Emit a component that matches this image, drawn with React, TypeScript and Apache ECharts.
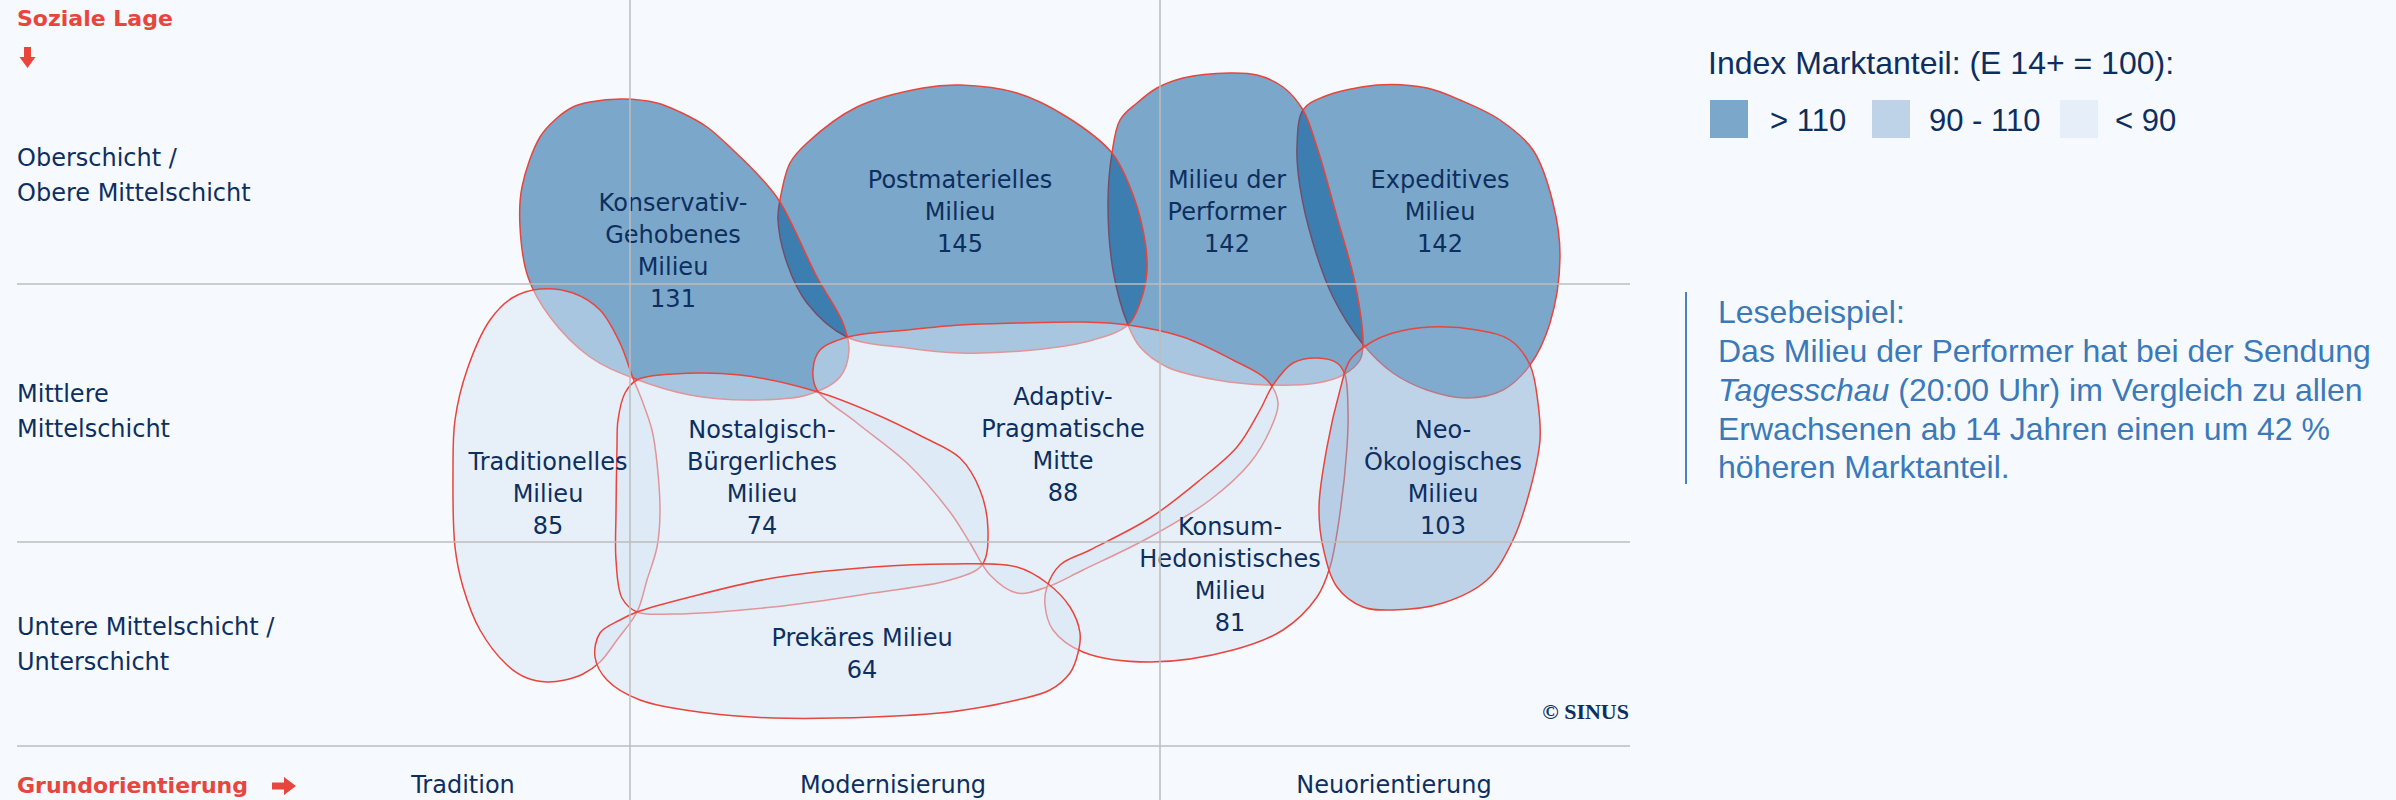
import React, { useEffect, useRef } from "react";
import * as echarts from "echarts";

// ---------------- data ----------------
// milieus in drawing order (back to front)
const milieuLabels: string[] = [
  "Expeditives\nMilieu",
  "Milieu der\nPerformer",
  "Postmaterielles\nMilieu",
  "Konservativ-\nGehobenes\nMilieu",
  "Traditionelles\nMilieu",
  "Adaptiv-\nPragmatische\nMitte",
  "Konsum-\nHedonistisches\nMilieu",
  "Neo-\nÖkologisches\nMilieu",
  "Nostalgisch-\nBürgerliches\nMilieu",
  "Prekäres Milieu",
];
const marketShareIndex: number[] = [142, 142, 145, 131, 85, 88, 81, 103, 74, 64];

// label anchor of each milieu (x = Grundorientierung scale, y = soziale Lage scale, top = 0)
const labelAnchors: number[][] = [
  [142.3, 21.2], [121.0, 21.2], [94.3, 21.2], [65.6, 25.1], [53.1, 49.4],
  [104.6, 44.5], [121.3, 57.5], [142.6, 47.8], [74.5, 47.8], [84.5, 65.4],
];

// outlines of the milieu shapes in the same axis units
const outlineExpeditive: number[][] = [
  [136.0, 8.5], [141.0, 8.8], [144.3, 10.0], [148.3, 12.0], [151.6, 15.0], [153.6, 20.3], [154.3, 25.7],
  [153.3, 32.3], [151.3, 36.5], [148.6, 39.0], [145.0, 39.8], [141.0, 39.0], [137.6, 37.3], [134.5, 34.3],
  [131.6, 29.7], [129.6, 24.3], [128.3, 18.7], [128.0, 14.7], [128.6, 11.0], [130.6, 9.7],
];
const outlinePerformer: number[][] = [
  [121.3, 7.3], [124.0, 7.5], [126.6, 8.7], [128.6, 11.0], [130.0, 14.7], [132.0, 21.7], [133.8, 28.3],
  [134.6, 34.3], [134.3, 36.0], [132.6, 37.5], [130.0, 38.3], [125.0, 38.5], [120.0, 38.0], [115.0, 36.7],
  [112.3, 34.7], [111.1, 32.5], [109.6, 27.0], [109.1, 20.3], [109.5, 15.3], [110.3, 12.0], [112.0, 10.3],
  [114.0, 8.8], [116.6, 7.8],
];
const outlinePostmaterial: number[][] = [
  [94.3, 8.5], [100.0, 9.3], [105.0, 11.7], [109.5, 15.3], [111.3, 18.7], [112.6, 23.0], [113.0, 27.0],
  [112.3, 30.3], [111.1, 32.5], [107.6, 34.0], [101.6, 35.0], [94.3, 35.3], [89.0, 34.8], [83.0, 33.7],
  [79.0, 30.3], [77.0, 26.3], [76.1, 22.0], [76.3, 20.0], [77.3, 16.3], [79.0, 14.3], [84.0, 10.7], [90.6, 8.8],
];
const outlineConservative: number[][] = [
  [60.6, 9.9], [64.0, 10.3], [66.3, 11.2], [69.0, 12.7], [71.6, 15.0], [74.3, 17.7], [76.3, 20.2],
  [80.0, 27.7], [82.6, 32.3], [83.2, 35.0], [82.3, 37.7], [79.0, 39.5], [73.3, 40.0], [67.3, 39.5],
  [61.6, 37.8], [57.3, 35.7], [53.3, 31.7], [51.1, 27.7], [50.3, 22.7], [50.5, 18.7], [52.3, 13.7],
  [54.0, 11.8], [55.6, 10.7], [57.3, 10.2],
];
const outlineTraditional: number[][] = [
  [52.3, 28.9], [55.6, 29.3], [58.3, 31.0], [60.3, 34.3], [61.6, 37.8], [62.6, 40.3], [63.5, 43.0],
  [64.0, 46.3], [64.3, 51.3], [64.0, 54.7], [63.0, 58.0], [62.0, 61.2], [60.0, 64.0], [58.3, 66.2],
  [56.6, 67.4], [54.8, 68.0], [53.0, 68.2], [51.0, 67.8], [49.0, 66.5], [46.3, 63.0], [44.6, 58.7],
  [43.8, 54.7], [43.6, 47.0], [43.8, 42.0], [45.0, 37.0], [47.3, 32.0], [49.5, 29.8],
];
const outlineAdaptive: number[][] = [
  [83.1, 33.7], [89.0, 33.0], [94.3, 32.5], [100.0, 32.3], [106.6, 32.2], [111.1, 32.5], [116.6, 33.7],
  [121.6, 36.0], [125.0, 38.0], [126.1, 40.3], [125.3, 43.0], [123.3, 46.3], [119.3, 50.0], [113.3, 53.7],
  [106.6, 57.0], [103.0, 58.7], [100.0, 59.3], [97.3, 57.5], [95.3, 54.3], [93.3, 51.2], [89.0, 46.3],
  [84.0, 42.3], [80.0, 39.0], [79.6, 37.0], [80.3, 35.0],
];
const outlineHedonist: number[][] = [
  [103.0, 58.7], [104.3, 56.5], [107.3, 55.0], [113.3, 51.8], [118.3, 48.0], [122.0, 44.7], [124.3, 41.0],
  [125.6, 38.5], [127.6, 36.3], [130.0, 35.8], [132.0, 36.3], [132.8, 37.5], [133.1, 41.0], [133.0, 44.7],
  [132.3, 51.3], [131.3, 56.7], [130.0, 59.7], [126.6, 63.0], [121.6, 65.0], [113.3, 66.2], [106.6, 65.2],
  [103.6, 63.0], [102.8, 60.5],
];
const outlineNeoEco: number[][] = [
  [141.3, 32.7], [146.0, 33.0], [149.3, 34.0], [151.3, 36.5], [152.1, 40.3], [152.3, 44.0], [151.3, 49.0],
  [149.6, 54.0], [147.0, 58.0], [142.6, 60.3], [137.6, 61.0], [134.6, 60.7], [132.0, 58.7], [130.6, 54.7],
  [130.2, 50.7], [131.0, 44.7], [132.3, 39.0], [133.3, 36.0], [135.3, 34.3], [137.6, 33.3],
];
const outlineNostalgic: number[][] = [
  [62.0, 38.0], [65.6, 37.4], [72.3, 37.5], [80.1, 39.2], [85.6, 41.3], [90.6, 43.7], [94.3, 45.8],
  [96.3, 49.0], [97.1, 53.0], [96.5, 56.5], [93.3, 58.0], [85.6, 59.3], [75.6, 60.7], [65.6, 61.4],
  [62.0, 61.2], [60.5, 59.8], [59.9, 56.0], [59.9, 51.3], [60.0, 44.7], [60.1, 42.0], [60.8, 39.3],
];
const outlinePrecarious: number[][] = [
  [62.0, 61.2], [67.3, 59.7], [75.6, 57.8], [85.6, 56.7], [93.3, 56.4], [100.0, 56.7], [103.0, 58.3],
  [105.3, 60.7], [106.3, 63.3], [106.1, 65.3], [105.3, 67.3], [103.3, 69.0], [100.0, 70.0], [96.6, 70.7],
  [93.3, 71.2], [85.6, 71.7], [75.6, 71.8], [69.0, 71.3], [62.3, 70.0], [59.0, 68.0], [57.8, 65.7],
  [58.3, 63.3], [60.3, 62.0],
];
const milieuOutlines: number[][][] = [
  outlineExpeditive, outlinePerformer, outlinePostmaterial, outlineConservative, outlineTraditional,
  outlineAdaptive, outlineHedonist, outlineNeoEco, outlineNostalgic, outlinePrecarious,
];

// boundaries of the map
const orientationBoundaries: number[] = [61.3, 114.3];
const socialBoundaries: number[] = [28.4, 54.2, 74.6];

// axis texts
const socialLevels: string[][] = [
  ["Oberschicht /", "Obere Mittelschicht"],
  ["Mittlere", "Mittelschicht"],
  ["Untere Mittelschicht /", "Unterschicht"],
];
const orientationLevels: string[] = ["Tradition", "Modernisierung", "Neuorientierung"];
const legendClasses: string[] = ["> 110", "90 - 110", "< 90"];

// ---------------- style ----------------
const NAVY = "#0d2f5f";
const RED = "#e8453c";
const BG = "#f6f9fd";
const TIER_SOLID = ["#7ba7ca", "#bfd3e8", "#e6eff9"];
const TIER_FILL = ["rgba(0,85,151,0.5)", "rgba(136,173,211,0.5)", "rgba(215,229,245,0.5)"];
const tierOf = (v: number) => (v > 110 ? 0 : v >= 90 ? 1 : 2);
const LABEL_FONT = "'DejaVu Sans', Verdana, sans-serif";
const SANS = "'Liberation Sans', Arial, sans-serif";

// closed centripetal Catmull-Rom spline through pixel points -> SVG path
function closedSplinePath(pts: number[][]): string {
  const n = pts.length;
  const f = (v: number) => v.toFixed(2);
  let d = `M${f(pts[0][0])} ${f(pts[0][1])}`;
  const dist = (a: number[], b: number[]) => Math.max(1e-6, Math.sqrt(Math.hypot(b[0] - a[0], b[1] - a[1])));
  for (let i = 0; i < n; i++) {
    const p0 = pts[(i - 1 + n) % n];
    const p1 = pts[i];
    const p2 = pts[(i + 1) % n];
    const p3 = pts[(i + 2) % n];
    const d1 = dist(p0, p1);
    const d2 = dist(p1, p2);
    const d3 = dist(p2, p3);
    const c1 = [0, 1].map(
      (k) => (d1 * d1 * p2[k] - d2 * d2 * p0[k] + (2 * d1 * d1 + 3 * d1 * d2 + d2 * d2) * p1[k]) / (3 * d1 * (d1 + d2))
    );
    const c2 = [0, 1].map(
      (k) => (d3 * d3 * p1[k] - d2 * d2 * p3[k] + (2 * d3 * d3 + 3 * d3 * d2 + d2 * d2) * p2[k]) / (3 * d3 * (d3 + d2))
    );
    d += ` C${f(c1[0])} ${f(c1[1])} ${f(c2[0])} ${f(c2[1])} ${f(p2[0])} ${f(p2[1])}`;
  }
  return d + " Z";
}

export default function App() {
  const ref = useRef<HTMLDivElement>(null);

  useEffect(() => {
    document.body.style.margin = "0";
    if (!ref.current) return;
    const chart = echarts.init(ref.current, null, { renderer: "svg" });

    const socialY = [158, 394, 627];
    const orientationX = [463, 893, 1394];
    const legendSwatchX = [1710, 1872, 2060];
    const legendTextX = [1770, 1929, 2115];
    const midText = { textVerticalAlign: "middle", verticalAlign: "middle" };

    const graphic: any[] = [
      { type: "text", x: 17, y: 18, style: { text: "Soziale Lage", fontSize: 22, fontWeight: "bold", fontFamily: LABEL_FONT, fill: RED, ...midText } },
      // down arrow
      { type: "polygon", shape: { points: [[24, 47], [31, 47], [31, 57], [35.5, 57], [27.5, 68], [19.5, 57], [24, 57]] }, style: { fill: RED } },
      { type: "text", x: 17, y: 785, style: { text: "Grundorientierung", fontSize: 22, fontWeight: "bold", fontFamily: LABEL_FONT, fill: RED, ...midText } },
      // right arrow
      { type: "polygon", shape: { points: [[272, 782.5], [284, 782.5], [284, 777], [296, 786], [284, 795], [284, 789.5], [272, 789.5]] }, style: { fill: RED } },
      { type: "text", x: 1629, y: 711, style: { text: "© SINUS", fontSize: 22, fontWeight: "bold", fontFamily: "'Liberation Serif', 'Times New Roman', serif", fill: NAVY, textAlign: "right", align: "right", ...midText } },
      // legend
      { type: "text", x: 1708, y: 63, style: { text: "Index Marktanteil: (E 14+ = 100):", fontSize: 32, fontFamily: SANS, fill: NAVY, ...midText } },
      // Lesebeispiel
      { type: "rect", shape: { x: 1685, y: 292, width: 2, height: 192 }, style: { fill: "#4a80bf" } },
      { type: "text", x: 1718, y: 312, style: { text: "Lesebeispiel:", fontSize: 32, fontFamily: SANS, fill: "#3b79b9", ...midText } },
      { type: "text", x: 1718, y: 351, style: { text: "Das Milieu der Performer hat bei der Sendung", fontSize: 32, fontFamily: SANS, fill: "#3b79b9", ...midText } },
      {
        type: "text", x: 1718, y: 390, style: {
          text: "{i|Tagesschau}{n| (20:00 Uhr) im Vergleich zu allen}", fontSize: 32, fontFamily: SANS, fill: "#3b79b9", ...midText,
          rich: {
            i: { fontStyle: "italic", fontSize: 32, fontFamily: SANS, fill: "#3b79b9", color: "#3b79b9" },
            n: { fontSize: 32, fontFamily: SANS, fill: "#3b79b9", color: "#3b79b9" },
          },
        },
      },
      { type: "text", x: 1718, y: 429, style: { text: "Erwachsenen ab 14 Jahren einen um 42 %", fontSize: 32, fontFamily: SANS, fill: "#3b79b9", ...midText } },
      { type: "text", x: 1718, y: 467, style: { text: "höheren Marktanteil.", fontSize: 32, fontFamily: SANS, fill: "#3b79b9", ...midText } },
    ];
    socialLevels.forEach((lines, i) => {
      lines.forEach((t, j) => {
        graphic.push({ type: "text", x: 17, y: socialY[i] + j * 35, style: { text: t, fontSize: 24, fontFamily: LABEL_FONT, fill: NAVY, ...midText } });
      });
    });
    orientationLevels.forEach((t, i) => {
      graphic.push({ type: "text", x: orientationX[i], y: 785, style: { text: t, fontSize: 24, fontFamily: LABEL_FONT, fill: NAVY, textAlign: "center", align: "center", ...midText } });
    });
    legendClasses.forEach((t, i) => {
      graphic.push({ type: "rect", shape: { x: legendSwatchX[i], y: 100, width: 38, height: 38 }, style: { fill: TIER_SOLID[i] } });
      graphic.push({ type: "text", x: legendTextX[i], y: 120, style: { text: t, fontSize: 31, fontFamily: SANS, fill: NAVY, ...midText } });
    });

    const option: any = {
      animation: false,
      backgroundColor: BG,
      grid: { left: 17, right: 766, top: 0, bottom: 0 },
      xAxis: { type: "value", min: 0, max: 161.3, show: false },
      yAxis: { type: "value", min: 0, max: 80, inverse: true, show: false },
      graphic,
      series: [
        {
          type: "line",
          data: [],
          z: 1,
          silent: true,
          markLine: {
            silent: true,
            symbol: ["none", "none"],
            label: { show: false },
            lineStyle: { color: "#bcbcbc", width: 1.5, type: "solid" },
            data: [
              ...orientationBoundaries.map((v) => ({ xAxis: v })),
              ...socialBoundaries.map((v) => ({ yAxis: v })),
            ],
          },
        },
        {
          type: "custom",
          z: 2,
          silent: true,
          clip: false,
          data: milieuOutlines.map((_, i) => [i]),
          encode: { x: 0, y: 0 },
          renderItem: (params: any, api: any) => {
            const i = params.dataIndex;
            const pts = milieuOutlines[i].map((p) => api.coord(p));
            return {
              type: "path",
              shape: { pathData: closedSplinePath(pts) },
              style: { fill: TIER_FILL[tierOf(marketShareIndex[i])], stroke: RED, lineWidth: 1.5 },
            };
          },
        },
        {
          type: "custom",
          z: 3,
          silent: true,
          clip: false,
          data: labelAnchors,
          encode: { x: 0, y: 1 },
          renderItem: (params: any, api: any) => {
            const i = params.dataIndex;
            const c = api.coord([api.value(0), api.value(1)]);
            return {
              type: "text",
              x: c[0],
              y: c[1],
              style: {
                text: `${milieuLabels[i]}\n${marketShareIndex[i]}`,
                fontFamily: LABEL_FONT,
                fontSize: 24,
                lineHeight: 31.7,
                fill: NAVY,
                align: "center",
                textAlign: "center",
                verticalAlign: "middle",
                textVerticalAlign: "middle",
              },
            };
          },
        },
      ],
    };
    chart.setOption(option);
    return () => chart.dispose();
  }, []);

  return <div ref={ref} style={{ position: "absolute", left: 0, top: 0, width: 2396, height: 800 }} />;
}
